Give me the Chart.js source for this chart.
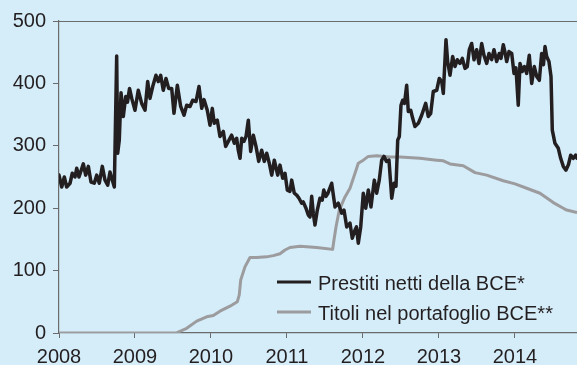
<!DOCTYPE html>
<html>
<head>
<meta charset="utf-8">
<script src="https://cdn.jsdelivr.net/npm/chart.js@4.4.1/dist/chart.umd.min.js"></script>
<style>
  html, body { margin: 0; padding: 0; background: #d5ecf9; overflow: hidden; }
  canvas { display: block; }
</style>
</head>
<body>
<canvas id="chart" width="577" height="365"></canvas>
<script>
// Net ECB lending (weekly, billions of euro), dates as decimal years
const loanYears = [
  2008.000, 2008.036, 2008.070, 2008.101, 2008.145, 2008.175, 2008.211, 2008.233, 2008.263, 2008.320,
  2008.351, 2008.386, 2008.421, 2008.464, 2008.496, 2008.530, 2008.570, 2008.605, 2008.641, 2008.671,
  2008.701, 2008.728, 2008.759, 2008.772, 2008.793, 2008.816, 2008.846, 2008.878, 2008.901, 2008.928,
  2008.957, 2009.000, 2009.043, 2009.088, 2009.132, 2009.167, 2009.197, 2009.233, 2009.276, 2009.307,
  2009.338, 2009.372, 2009.408, 2009.443, 2009.483, 2009.513, 2009.557, 2009.601, 2009.645, 2009.680,
  2009.724, 2009.759, 2009.803, 2009.842, 2009.878, 2009.908, 2009.951, 2009.987, 2010.017, 2010.043,
  2010.083, 2010.118, 2010.162, 2010.193, 2010.237, 2010.272, 2010.307, 2010.338, 2010.359, 2010.382,
  2010.404, 2010.434, 2010.461, 2010.491, 2010.522, 2010.557, 2010.592, 2010.628, 2010.667, 2010.701,
  2010.733, 2010.767, 2010.799, 2010.833, 2010.878, 2010.908, 2010.943, 2010.974, 2011.004, 2011.039,
  2011.062, 2011.096, 2011.128, 2011.158, 2011.193, 2011.214, 2011.250, 2011.280, 2011.303, 2011.325,
  2011.346, 2011.368, 2011.399, 2011.434, 2011.464, 2011.484, 2011.513, 2011.539, 2011.588, 2011.632,
  2011.675, 2011.720, 2011.750, 2011.786, 2011.829, 2011.859, 2011.895, 2011.914, 2011.938, 2011.970,
  2012.004, 2012.036, 2012.070, 2012.105, 2012.149, 2012.180, 2012.214, 2012.246, 2012.276, 2012.309,
  2012.342, 2012.378, 2012.408, 2012.434, 2012.457, 2012.478, 2012.500, 2012.522, 2012.546, 2012.575,
  2012.596, 2012.628, 2012.654, 2012.684, 2012.728, 2012.772, 2012.825, 2012.859, 2012.891, 2012.925,
  2012.970, 2013.004, 2013.036, 2013.057, 2013.070, 2013.092, 2013.114, 2013.145, 2013.180, 2013.211,
  2013.241, 2013.276, 2013.307, 2013.342, 2013.372, 2013.399, 2013.430, 2013.461, 2013.496, 2013.526,
  2013.562, 2013.592, 2013.628, 2013.658, 2013.693, 2013.724, 2013.759, 2013.793, 2013.816, 2013.846,
  2013.868, 2013.891, 2013.921, 2013.957, 2013.987, 2014.013, 2014.043, 2014.066, 2014.096, 2014.125,
  2014.154, 2014.188, 2014.220, 2014.254, 2014.286, 2014.320, 2014.351, 2014.375, 2014.395, 2014.417,
  2014.447, 2014.474, 2014.491, 2014.526, 2014.570, 2014.601, 2014.636, 2014.671, 2014.704, 2014.733,
  2014.767, 2014.799, 2014.816
];
const loanValues = [
  253, 234, 250, 234, 240, 256, 250, 264, 250, 271,
  253, 267, 242, 240, 253, 240, 267, 245, 237, 258,
  245, 234, 444, 288, 309, 385, 347, 379, 370, 392,
  376, 357, 389, 368, 357, 403, 376, 395, 413, 403,
  413, 389, 408, 392, 392, 352, 397, 363, 349, 365,
  363, 373, 371, 395, 360, 374, 357, 333, 360, 336,
  341, 315, 323, 299, 309, 317, 304, 312, 293, 280,
  312, 307, 315, 341, 291, 317, 299, 275, 293, 275,
  288, 272, 253, 277, 253, 269, 248, 256, 229, 227,
  245, 224, 221, 216, 208, 210, 200, 189, 186, 219,
  192, 173, 197, 216, 213, 229, 219, 224, 240, 202,
  208, 192, 197, 170, 176, 152, 165, 170, 144, 170,
  224, 200, 229, 202, 245, 224, 245, 277, 283, 275,
  277, 216, 240, 235, 309, 315, 365, 373, 368, 397,
  355, 357, 344, 331, 336, 349, 368, 347, 352, 387,
  389, 408, 403, 384, 416, 470, 435, 413, 443, 427,
  438, 432, 440, 424, 427, 454, 464, 438, 454, 432,
  464, 445, 432, 448, 438, 454, 435, 448, 440, 462,
  450, 435, 451, 448, 416, 425, 365, 432, 419, 427,
  416, 445, 400, 427, 411, 405, 448, 430, 459, 443,
  435, 411, 325, 304, 296, 280, 267, 261, 270, 285,
  280, 285, 280
];

// Securities held in the ECB portfolio (billions of euro)
const bondYears = [
  2008.000, 2009.539, 2009.680, 2009.812, 2009.943, 2010.030, 2010.118, 2010.250, 2010.346, 2010.372,
  2010.391, 2010.447, 2010.513, 2010.601, 2010.733, 2010.820, 2010.908, 2010.974, 2011.039, 2011.171,
  2011.391, 2011.601, 2011.618, 2011.645, 2011.688, 2011.763, 2011.829, 2011.895, 2011.938, 2012.004,
  2012.070, 2012.180, 2012.355, 2012.487, 2012.750, 2012.970, 2013.057, 2013.145, 2013.320, 2013.474,
  2013.628, 2013.846, 2014.000, 2014.154, 2014.329, 2014.504, 2014.636, 2014.680, 2014.816
];
const bondValues = [
  0, 0, 7.5, 19, 26, 28, 35, 43, 50, 61,
  85, 106, 121, 121, 122, 124, 127, 133, 137, 139,
  137, 134, 149, 170, 197, 218, 232, 256, 272, 277,
  283, 284, 282, 282, 280, 277, 276, 271, 268, 257,
  253, 244, 239, 232, 224, 209, 200, 197, 193
];

const yearTicks = [2008, 2009, 2010, 2011, 2012, 2013, 2014];
const valueTicks = [0, 100, 200, 300, 400, 500];
const seriesLabels = ['Prestiti netti della BCE*', 'Titoli nel portafoglio BCE**'];
const seriesColors = ['#231f20', '#9c9c9e'];

const zip = (xs, ys) => xs.map((x, i) => ({ x: x, y: ys[i] }));

const FONT = '"Liberation Sans", Arial, Helvetica, sans-serif';
const TEXT = '#231f20';
const AXIS = '#6a6b6d';

// Light blue page fill behind everything
const backdrop = {
  id: 'backdrop',
  beforeDraw(chart) {
    const ctx = chart.ctx;
    ctx.save();
    ctx.fillStyle = '#d5ecf9';
    ctx.fillRect(0, 0, chart.width, chart.height);
    ctx.restore();
  }
};

// Frame line along the top of the plot and the in-plot legend
const frameAndLegend = {
  id: 'frameAndLegend',
  afterDraw(chart) {
    const ctx = chart.ctx;
    const a = chart.chartArea;
    ctx.save();
    ctx.strokeStyle = AXIS;
    ctx.lineWidth = 1.2;
    ctx.beginPath();
    ctx.moveTo(a.left, a.top + 0.5);
    ctx.lineTo(a.right, a.top + 0.5);
    ctx.stroke();

    const rows = [
      { y: 282, label: seriesLabels[0], color: seriesColors[0] },
      { y: 312, label: seriesLabels[1], color: seriesColors[1] }
    ];
    ctx.font = '20px ' + FONT;
    ctx.textBaseline = 'alphabetic';
    ctx.textAlign = 'left';
    rows.forEach(r => {
      ctx.strokeStyle = r.color;
      ctx.lineWidth = 3;
      ctx.beginPath();
      ctx.moveTo(277, r.y);
      ctx.lineTo(311, r.y);
      ctx.stroke();
      ctx.fillStyle = TEXT;
      ctx.fillText(r.label, 318, r.y + 7.5);
    });
    ctx.restore();
  }
};

new Chart(document.getElementById('chart'), {
  type: 'line',
  data: {
    datasets: [
      {
        label: seriesLabels[0],
        data: zip(loanYears, loanValues),
        borderColor: seriesColors[0],
        borderWidth: 3.5,
        pointRadius: 0,
        tension: 0,
        borderJoinStyle: 'round',
        borderCapStyle: 'round',
        fill: false
      },
      {
        label: seriesLabels[1],
        data: zip(bondYears, bondValues),
        borderColor: seriesColors[1],
        borderWidth: 3,
        pointRadius: 0,
        tension: 0,
        borderJoinStyle: 'round',
        fill: false
      }
    ]
  },
  options: {
    responsive: false,
    animation: false,
    devicePixelRatio: 1,
    layout: { padding: { top: 21, right: 0, bottom: 0, left: 0 } },
    plugins: {
      legend: { display: false },
      tooltip: { enabled: false }
    },
    scales: {
      x: {
        type: 'linear',
        min: 2008,
        max: 2014.816,
        afterBuildTicks: s => { s.ticks = yearTicks.map(v => ({ value: v })); },
        afterFit: s => { s.height = 32; },
        grid: { drawOnChartArea: false, drawTicks: true, tickLength: 5, color: AXIS, lineWidth: 1 },
        border: { display: true, color: AXIS, width: 1.2 },
        ticks: {
          color: TEXT,
          font: { family: FONT, size: 20 },
          padding: 7,
          maxRotation: 0,
          autoSkip: false,
          callback: v => String(v)
        }
      },
      y: {
        type: 'linear',
        min: 0,
        max: 500,
        afterBuildTicks: s => { s.ticks = valueTicks.map(v => ({ value: v })); },
        afterFit: s => { s.width = 59; },
        grid: { drawOnChartArea: false, drawTicks: true, tickLength: 6, color: AXIS, lineWidth: 1 },
        border: { display: true, color: AXIS, width: 1.2 },
        ticks: {
          color: TEXT,
          font: { family: FONT, size: 20 },
          padding: 7
        }
      }
    }
  },
  plugins: [backdrop, frameAndLegend]
});
</script>
</body>
</html>
